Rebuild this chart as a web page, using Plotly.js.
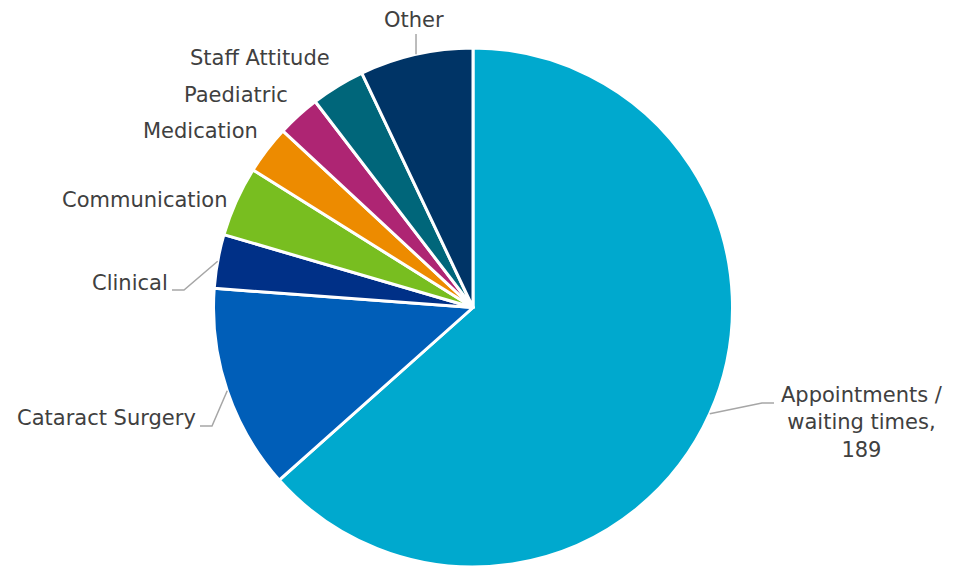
<!DOCTYPE html>
<html><head><meta charset="utf-8">
<script src="https://cdn.plot.ly/plotly-3.0.1.min.js"></script>
<style>html,body{margin:0;padding:0;background:#fff}#chart{width:954px;height:567px}</style>
</head><body><div id="chart"></div>
<script>
const categories = ["Appointments / waiting times","Cataract Surgery","Clinical","Communication","Medication","Paediatric","Staff Attitude","Other"];
const counts = [189, 38, 10, 13, 9, 8, 10, 21];
const colors = ["#00A9CE","#005EB8","#003087","#78BE20","#ED8B00","#AE2573","#00667A","#003466"];

const W = 954, H = 567;
const CX = 473, CY = 307.5, R = 259.5;
const dom = {x:[(CX-R)/W,(CX+R)/W], y:[0,(2*R)/H]};

const total = counts.reduce((a,b)=>a+b,0);
let cum = 0;
const mid = counts.map(v => { const m = (cum + v/2)/total*360; cum += v; return m; });
function edge(i){ const t = mid[i]*Math.PI/180; return [CX + R*Math.sin(t), CY - R*Math.cos(t)]; }
const px = x => x/W, py = y => 1 - y/H;

// label settings: [index, text, textX, textY, anchor, elbow points after edge]
const labelCfg = [
  [0, "Appointments /<br>waiting times,<br>189", 862, 422, "center", [[762,403],[774,403]]],
  [1, "Cataract Surgery", 198, 418, "right", [[212,426],[200,426]]],
  [2, "Clinical", 170, 283, "right", [[184,290],[172,290]]],
  [3, "Communication", 145, 200, "center", null],
  [4, "Medication", 200, 131, "center", null],
  [5, "Paediatric", 236, 95, "center", null],
  [6, "Staff Attitude", 260, 58, "center", null],
  [7, "Other", 414, 20, "center", "up"]
];

const annotations = [], shapes = [];
labelCfg.forEach(([i, txt, tx, ty, anc, pts]) => {
  annotations.push({xref:"paper", yref:"paper", x:px(tx), y:py(ty), text:txt, showarrow:false,
    xanchor:anc, yanchor:"middle", align:"center",
    font:{family:"DejaVu Sans, Verdana, sans-serif", size:21, color:"#404040"}});
  if (pts) {
    const e = edge(i);
    let path;
    if (pts === "up") path = [e, [e[0], 34]];
    else path = [e].concat(pts);
    const d = path.map((p,k)=> (k?"L":"M") + px(p[0]) + "," + py(p[1])).join(" ");
    shapes.push({type:"path", xref:"paper", yref:"paper", path:d, line:{color:"#a6a6a6", width:1.5}});
  }
});

Plotly.newPlot("chart", [{
  type:"pie", labels:categories, values:counts, sort:false, direction:"clockwise", rotation:0,
  marker:{colors:colors, line:{color:"#ffffff", width:3}},
  textinfo:"none", hoverinfo:"label+value", domain:dom, showlegend:false
}], {
  width:W, height:H, margin:{l:0,r:0,t:0,b:0}, paper_bgcolor:"#fff",
  annotations:annotations, shapes:shapes, showlegend:false
}, {displayModeBar:false, staticPlot:true});
</script></body></html>
